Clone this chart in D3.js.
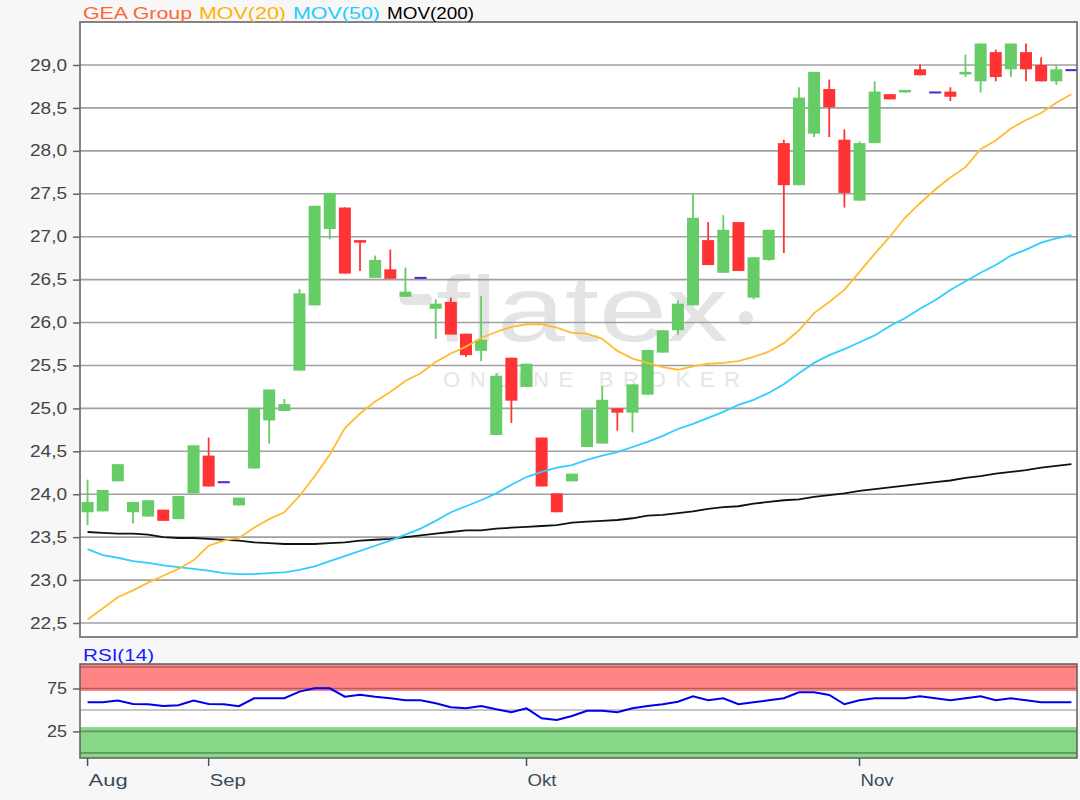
<!DOCTYPE html>
<html><head><meta charset="utf-8">
<script src="https://cdn.jsdelivr.net/npm/d3@7"></script>
<style>body{margin:0;background:#f7f7f7;} text{font-family:"Liberation Sans",Arial,sans-serif;}</style>
</head><body><svg id="c" width="1080" height="800"></svg>
<script>
const dates = [
"2019-08-21","2019-08-22","2019-08-23","2019-08-26","2019-08-27","2019-08-28","2019-08-29","2019-08-30",
"2019-09-02","2019-09-03","2019-09-04","2019-09-05","2019-09-06","2019-09-09","2019-09-10","2019-09-11","2019-09-12","2019-09-13",
"2019-09-16","2019-09-17","2019-09-18","2019-09-19","2019-09-20","2019-09-23","2019-09-24","2019-09-25","2019-09-26","2019-09-27","2019-09-30",
"2019-10-01","2019-10-02","2019-10-04","2019-10-07","2019-10-08","2019-10-09","2019-10-10","2019-10-11","2019-10-14","2019-10-15","2019-10-16",
"2019-10-17","2019-10-18","2019-10-21","2019-10-22","2019-10-23","2019-10-24","2019-10-25","2019-10-28","2019-10-29","2019-10-30","2019-10-31",
"2019-11-01","2019-11-04","2019-11-05","2019-11-06","2019-11-07","2019-11-08","2019-11-11","2019-11-12","2019-11-13","2019-11-14","2019-11-15",
"2019-11-18","2019-11-19","2019-11-20","2019-11-21"];
const open  = [23.79,23.80,24.15,23.79,23.74,23.82,23.71,24.01,24.45,24.14,23.87,24.30,24.86,24.97,25.44,26.20,27.09,27.34,26.96,26.52,26.62,26.30,26.52,26.16,26.24,25.87,25.67,24.69,25.59,25.25,24.66,24.01,24.15,24.55,24.59,25.00,24.95,25.16,25.65,25.91,26.20,26.96,26.58,27.17,26.29,26.73,28.09,27.60,28.20,28.72,28.13,27.42,28.09,28.66,28.68,28.95,28.68,28.69,28.89,28.81,29.15,28.95,29.15,29.00,28.81,28.94];
const high  = [24.17,24.05,24.35,23.91,23.93,23.82,23.98,24.57,24.66,24.14,23.96,25.00,25.22,25.11,26.39,27.36,27.51,27.34,26.96,26.78,26.85,26.64,26.52,26.27,26.29,25.87,26.31,25.41,25.59,25.52,24.66,24.01,24.24,24.99,25.26,25.00,25.28,25.68,25.91,26.26,27.51,27.17,27.25,27.17,26.76,27.08,28.13,28.74,28.92,28.83,28.25,28.11,28.81,28.66,28.71,29.01,28.68,28.74,29.12,29.25,29.18,29.25,29.25,29.09,29.00,28.94];
const low   = [23.64,23.80,24.15,23.66,23.74,23.69,23.71,24.01,24.09,24.14,23.87,24.30,24.59,24.97,25.44,26.20,26.97,26.57,26.60,26.52,26.51,26.30,26.52,25.81,25.86,25.60,25.55,24.69,24.83,25.25,24.09,23.79,24.15,24.55,24.59,24.74,24.72,25.16,25.65,25.86,26.20,26.67,26.58,26.60,26.27,26.72,26.81,27.60,28.16,28.16,27.34,27.42,28.09,28.60,28.68,28.88,28.68,28.58,28.86,28.68,28.81,28.86,28.81,28.81,28.77,28.94];
const close = [23.91,24.05,24.35,23.91,23.93,23.69,23.98,24.57,24.09,24.14,23.96,25.00,25.22,25.05,26.34,27.36,27.51,26.57,26.93,26.73,26.51,26.36,26.52,26.22,25.86,25.62,25.80,25.38,25.09,25.52,24.09,23.79,24.24,24.99,25.10,24.95,25.28,25.68,25.91,26.22,27.22,26.67,27.08,26.60,26.76,27.08,27.60,28.62,28.92,28.51,27.51,28.09,28.69,28.60,28.71,28.88,28.68,28.63,28.92,29.25,28.86,29.25,28.95,28.81,28.95,28.94];
const mov20 = [22.54,22.67,22.80,22.88,22.97,23.05,23.13,23.23,23.40,23.46,23.49,23.61,23.71,23.79,23.98,24.21,24.46,24.77,24.94,25.08,25.19,25.32,25.41,25.54,25.64,25.72,25.82,25.89,25.95,25.98,25.98,25.94,25.88,25.87,25.81,25.67,25.58,25.53,25.48,25.45,25.49,25.52,25.53,25.55,25.60,25.66,25.76,25.91,26.11,26.24,26.38,26.59,26.80,27.00,27.22,27.39,27.55,27.69,27.81,28.02,28.12,28.26,28.36,28.44,28.56,28.66];
const mov50 = [23.36,23.29,23.26,23.22,23.20,23.17,23.15,23.13,23.11,23.08,23.07,23.07,23.08,23.09,23.12,23.16,23.22,23.28,23.34,23.40,23.46,23.53,23.60,23.69,23.79,23.86,23.93,24.01,24.11,24.20,24.26,24.31,24.34,24.40,24.45,24.49,24.55,24.61,24.68,24.76,24.82,24.89,24.96,25.04,25.10,25.18,25.28,25.41,25.53,25.62,25.69,25.77,25.85,25.96,26.05,26.16,26.26,26.38,26.48,26.58,26.67,26.78,26.85,26.93,26.98,27.02];
const mov200 = [23.56,23.55,23.54,23.54,23.53,23.50,23.49,23.49,23.48,23.47,23.46,23.44,23.43,23.42,23.42,23.42,23.43,23.44,23.46,23.47,23.48,23.50,23.52,23.54,23.56,23.58,23.58,23.60,23.61,23.62,23.63,23.64,23.67,23.68,23.69,23.70,23.72,23.75,23.76,23.78,23.80,23.83,23.85,23.86,23.89,23.91,23.93,23.94,23.97,23.99,24.01,24.04,24.06,24.08,24.10,24.12,24.14,24.16,24.19,24.21,24.24,24.26,24.28,24.31,24.33,24.35];
const rsi = [58.9,58.9,61.0,57.0,56.6,54.6,55.4,61.0,57.0,56.6,54.3,63.6,63.6,63.6,71.3,75.2,75.2,65.4,67.8,65.4,63.6,61.2,61.2,57.7,53.1,51.9,54.6,50.8,47.3,51.9,40.3,38.3,43.0,49.1,49.1,47.3,51.9,54.6,56.6,59.6,65.9,61.2,63.6,56.6,58.9,61.2,63.6,70.6,70.6,67.4,56.6,61.2,63.6,63.6,63.6,65.9,63.6,61.2,63.6,65.9,61.2,63.6,61.2,58.9,58.9,58.9];
const yTicks = [22.5,23.0,23.5,24.0,24.5,25.0,25.5,26.0,26.5,27.0,27.5,28.0,28.5,29.0];
const monthTicks = ["2019-08-21","2019-09-02","2019-10-01","2019-11-01"];
const monthLabels = ["Aug","Sep","Okt","Nov"];
const rsiTicks = [25,75];
const rsiGrid = [0,25,50,75,100];

const svg = d3.select("#c");
const L=80, R=1077, T=22, B=637;
const RT=664, RB=758;
const x = d3.scaleBand().domain(dates).range([80,1079]).padding(0);
const cx = d => x(d) + x.bandwidth()/2;
const y = d3.scaleLinear().domain([22.5,29]).range([623,65]);
const yr = d3.scaleLinear().domain([-6,103.5]).range([RB,RT]);

svg.append("rect").attr("width",1080).attr("height",800).attr("fill","#f7f7f7");
const defs = svg.append("defs");
defs.append("clipPath").attr("id","pc").append("rect").attr("x",L).attr("y",T).attr("width",R-L).attr("height",B-T);
defs.append("clipPath").attr("id","rc").append("rect").attr("x",L).attr("y",RT).attr("width",R-L).attr("height",RB-RT);

// main plot background
svg.append("rect").attr("x",L).attr("y",T).attr("width",R-L).attr("height",B-T).attr("fill","#fff");

// watermark
const wm = svg.append("g").attr("fill","#e4e4e4");
wm.append("rect").attr("x",400).attr("y",294).attr("width",32).attr("height",11).attr("rx",5);
wm.append("text").attr("x",436).attr("y",341).attr("font-size",92).attr("textLength",292).attr("lengthAdjust","spacingAndGlyphs").text("flatex");
wm.append("circle").attr("cx",746).attr("cy",318).attr("r",7);
wm.append("text").attr("x",443).attr("y",387).attr("font-size",22).attr("textLength",297).attr("lengthAdjust","spacing").attr("fill","#e6e6e6").text("ONLINE BROKER");

// grid
svg.append("g").selectAll("line").data(yTicks).join("line")
  .attr("x1",L).attr("x2",R).attr("y1",d=>y(d)).attr("y2",d=>y(d))
  .attr("stroke","#a0a0a0").attr("stroke-width",1.6);

const plot = svg.append("g").attr("clip-path","url(#pc)");
const idx = d3.range(dates.length);
// candles
const up="#66cc66", dn="#ff3333", dj="#5522cc";
const bw = 12;
plot.append("g").selectAll("line").data(idx.filter(i=>open[i]!==close[i])).join("line")
  .attr("x1",i=>cx(dates[i])).attr("x2",i=>cx(dates[i]))
  .attr("y1",i=>y(high[i])).attr("y2",i=>y(low[i]))
  .attr("stroke",i=>close[i]>open[i]?up:dn).attr("stroke-width",1.8);
plot.append("g").selectAll("rect").data(idx.filter(i=>open[i]!==close[i])).join("rect")
  .attr("x",i=>cx(dates[i])-bw/2).attr("width",bw)
  .attr("y",i=>y(Math.max(open[i],close[i])))
  .attr("height",i=>Math.max(2,Math.abs(y(open[i])-y(close[i]))))
  .attr("fill",i=>close[i]>open[i]?up:dn);
plot.append("g").selectAll("line").data(idx.filter(i=>open[i]===close[i])).join("line")
  .attr("x1",i=>cx(dates[i])-bw/2).attr("x2",i=>cx(dates[i])+bw/2)
  .attr("y1",i=>y(close[i])).attr("y2",i=>y(close[i]))
  .attr("stroke",dj).attr("stroke-width",2);

// moving averages
const mkLine = arr => d3.line().x((d,i)=>cx(dates[i])).y(d=>y(d))(arr);
plot.append("path").attr("d",mkLine(mov200)).attr("fill","none").attr("stroke","#111").attr("stroke-width",1.8);
plot.append("path").attr("d",mkLine(mov50)).attr("fill","none").attr("stroke","#33ccff").attr("stroke-width",1.8);
plot.append("path").attr("d",mkLine(mov20)).attr("fill","none").attr("stroke","#ffbb33").attr("stroke-width",1.8);

// border
svg.append("rect").attr("x",L).attr("y",T).attr("width",R-L).attr("height",B-T).attr("fill","none").attr("stroke","#666").attr("stroke-width",1.6);

// y axis
const ya = svg.append("g").attr("transform",`translate(${L},0)`)
  .call(d3.axisLeft(y).tickValues(yTicks).tickSize(7).tickPadding(6).tickFormat(d=>d.toFixed(1).replace(".",",")));
ya.select(".domain").remove();
ya.selectAll("line").attr("stroke","#666").attr("stroke-width",1.5);
ya.selectAll("text").attr("font-size",16).attr("fill","#444").attr("textLength",37).attr("lengthAdjust","spacingAndGlyphs");

// legend
const leg = [["GEA Group","#ff6633",83,109],["MOV(20)","#ffb300",199,87],["MOV(50)","#22ccff",293,87],["MOV(200)","#000",387,87]];
svg.append("g").selectAll("text").data(leg).join("text")
  .attr("x",d=>d[2]).attr("y",19).attr("font-size",16).attr("fill",d=>d[1])
  .attr("textLength",d=>d[3]).attr("lengthAdjust","spacingAndGlyphs").text(d=>d[0]);

// RSI panel
svg.append("text").attr("x",83).attr("y",661).attr("font-size",16).attr("fill","#1a1aff")
  .attr("textLength",71).attr("lengthAdjust","spacingAndGlyphs").text("RSI(14)");
svg.append("rect").attr("x",L).attr("y",RT).attr("width",R-L).attr("height",RB-RT).attr("fill","#fff");
const rp = svg.append("g").attr("clip-path","url(#rc)");
rp.append("rect").attr("x",L).attr("width",R-L).attr("y",yr(103.5)).attr("height",yr(72)-yr(103.5)).attr("fill","#ff8585");
rp.append("rect").attr("x",L).attr("width",R-L).attr("y",yr(30)).attr("height",yr(-6)-yr(30)).attr("fill","#88d888");
rp.append("g").selectAll("line").data(rsiGrid).join("line")
  .attr("x1",L).attr("x2",R).attr("y1",d=>yr(d)).attr("y2",d=>yr(d))
  .attr("stroke","rgba(0,0,0,0.3)").attr("stroke-width",1.6);
rp.append("path").attr("d",d3.line().x((d,i)=>cx(dates[i])).y(d=>yr(d))(rsi))
  .attr("fill","none").attr("stroke","#0000ee").attr("stroke-width",2);
svg.append("rect").attr("x",L).attr("y",RT).attr("width",R-L).attr("height",RB-RT).attr("fill","none").attr("stroke","#666").attr("stroke-width",1.6);
const ra = svg.append("g").attr("transform",`translate(${L},0)`)
  .call(d3.axisLeft(yr).tickValues(rsiTicks).tickSize(7).tickPadding(6));
ra.select(".domain").remove();
ra.selectAll("line").attr("stroke","#666").attr("stroke-width",1.5);
ra.selectAll("text").attr("font-size",16).attr("fill","#444").attr("textLength",20).attr("lengthAdjust","spacingAndGlyphs");

// x axis
const ml = {}; monthTicks.forEach((d,i)=>ml[d]=monthLabels[i]);
const xa = svg.append("g").attr("transform",`translate(0,${RB})`)
  .call(d3.axisBottom(x).tickValues(monthTicks).tickSize(8).tickFormat(d=>ml[d]));
xa.select(".domain").remove();
xa.selectAll("line").attr("stroke","#445566").attr("stroke-width",1.5);
xa.selectAll("text").attr("font-size",16).attr("fill","#3a4a5c").attr("text-anchor","start")
  .attr("x",1).attr("y",17).attr("textLength",(d,i)=>[39,36,29,33][i]).attr("lengthAdjust","spacingAndGlyphs");
</script></body></html>
